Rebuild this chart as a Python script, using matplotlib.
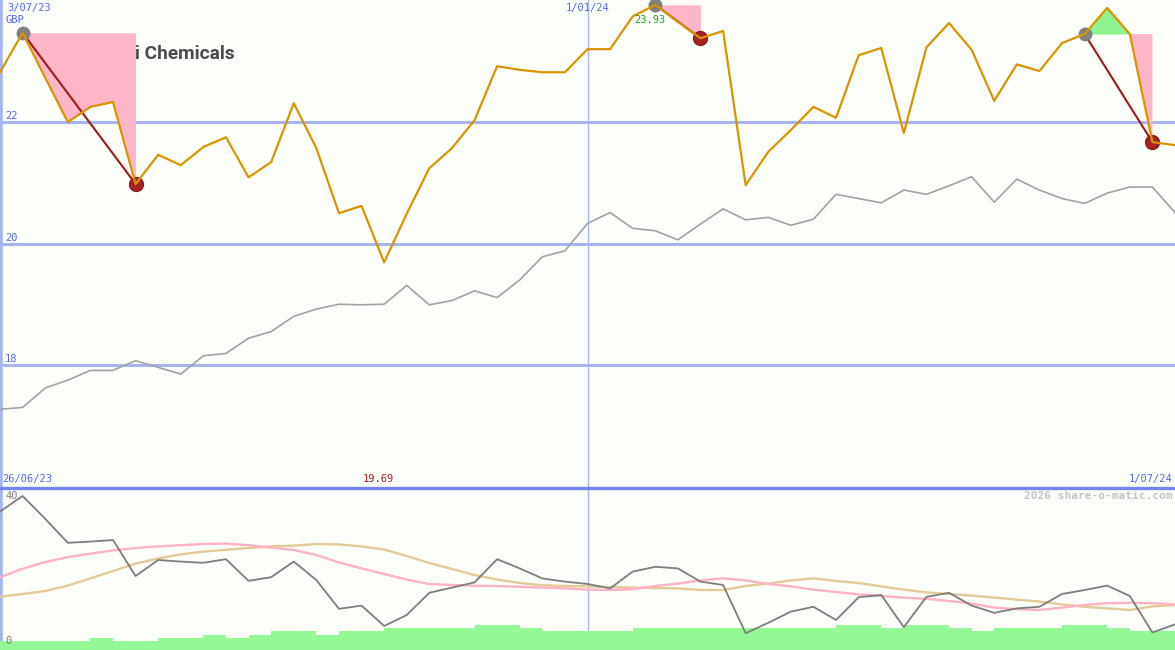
import matplotlib
matplotlib.use('Agg')
import matplotlib.pyplot as plt
from matplotlib.lines import Line2D
import numpy as np

# ---------------- data ----------------
price = [22.82, 23.47, 22.73, 22.00, 22.25, 22.33, 20.98, 21.46, 21.29, 21.59,
         21.75, 21.09, 21.34, 22.31, 21.57, 20.50, 20.62, 19.69, 20.49, 21.24,
         21.57, 22.03, 22.92, 22.86, 22.82, 22.82, 23.20, 23.20, 23.74, 23.93,
         23.65, 23.38, 23.50, 20.96, 21.51, 21.87, 22.25, 22.07, 23.10, 23.22,
         21.82, 23.23, 23.63, 23.19, 22.35, 22.95, 22.84, 23.30, 23.45, 23.88,
         23.45, 21.67, 21.62]
relative = [17.27, 17.30, 17.62, 17.75, 17.91, 17.91, 18.07, 17.96, 17.85, 18.15,
            18.19, 18.44, 18.55, 18.80, 18.92, 19.00, 18.99, 19.00, 19.31, 18.99,
            19.06, 19.22, 19.11, 19.40, 19.78, 19.88, 20.33, 20.51, 20.25, 20.21,
            20.06, 20.32, 20.57, 20.39, 20.43, 20.30, 20.40, 20.81, 20.74, 20.67,
            20.88, 20.81, 20.95, 21.10, 20.68, 21.06, 20.88, 20.74, 20.66, 20.83,
            20.93, 20.93, 20.51]
osc = [34.6, 38.5, 32.8, 26.8, 27.1, 27.5, 18.5, 22.5, 22.1, 21.8,
       22.7, 17.3, 18.2, 22.1, 17.5, 10.3, 11.1, 6.0, 8.75, 14.3,
       15.6, 16.9, 22.7, 20.4, 17.9, 17.1, 16.5, 15.4, 19.6, 20.8,
       20.4, 17.1, 16.25, 4.2, 6.8, 9.6, 10.8, 7.5, 13.2, 13.75,
       5.7, 13.3, 14.3, 11.1, 9.3, 10.4, 10.8, 14.0, 15.0, 16.1,
       13.5, 4.4, 6.4]
osc_ma_fast = [18.2, 20.3, 22.0, 23.2, 24.1, 24.9, 25.5, 25.9, 26.2, 26.5,
               26.6, 26.2, 25.6, 25.0, 23.75, 21.9, 20.4, 19.0, 17.6, 16.5,
               16.25, 16.05, 16.0, 15.8, 15.6, 15.4, 15.1, 15.0, 15.2, 16.0,
               16.6, 17.4, 17.9, 17.4, 16.5, 15.9, 15.1, 14.5, 13.9, 13.5,
               13.1, 12.8, 12.25, 11.6, 10.6, 10.2, 10.0, 10.6, 11.25, 11.7,
               11.8, 11.7, 11.4]
osc_ma_slow = [13.3, 14.0, 14.75, 16.1, 17.9, 19.75, 21.6, 22.9, 23.9, 24.6,
               25.05, 25.5, 25.9, 26.1, 26.5, 26.4, 25.9, 25.1, 23.5, 21.75,
               20.25, 18.75, 17.6, 16.75, 16.2, 16.0, 15.9, 15.75, 15.6, 15.5,
               15.4, 15.0, 15.0, 16.0, 16.6, 17.4, 17.9, 17.25, 16.75, 15.9,
               15.1, 14.4, 14.0, 13.6, 13.1, 12.6, 12.1, 11.4, 10.8, 10.4,
               10.0, 10.9, 11.25]
volume = [2.25, 2.25, 2.25, 2.25, 2.9, 2.25, 2.25, 2.9, 2.9, 3.75,
          2.9, 3.75, 4.75, 4.75, 3.75, 4.75, 4.75, 5.5, 5.5, 5.5,
          5.5, 6.25, 6.25, 5.5, 4.75, 4.75, 4.75, 4.75, 5.5, 5.5,
          5.5, 5.5, 5.5, 5.5, 5.5, 5.5, 5.5, 6.25, 6.25, 5.5,
          6.25, 6.25, 5.5, 4.75, 5.5, 5.5, 5.5, 6.25, 6.25, 5.5,
          4.75, 4.75, 4.75]
price_grid = [18, 20, 22]
drop_start = [1, 29, 48]
drop_end = [6, 31, 51]
year_mark = 26
start_label, year_label, end_label = "26/06/23", "1/01/24", "1/07/24"
top_label = "3/07/23"
title = "Mitsui Chemicals"

# ---------------- styles ----------------
W, H = 1175, 650
BG = '#FCFEFA'
GRID = '#A6B4F2'
BLUE_TXT = '#5566EE'
ORANGE = '#D99400'
MONO = 'DejaVu Sans Mono'

fig = plt.figure(figsize=(W / 100, H / 100), dpi=100)
fig.patch.set_facecolor(BG)

def fx(x):
    return x / W

def fy(y):
    return 1 - y / H

main = fig.add_axes([0, fy(487), 1, 487 / H])
sub = fig.add_axes([0, 0, 1, 162 / H])
for ax in (main, sub):
    ax.set_axis_off()
    ax.set_xlim(0, len(price) - 1)

x = np.arange(len(price))
p = np.array(price)

main.set_ylim(15.99, 24.01)
sub.set_ylim(0, 40.5)

# grid
for g in price_grid:
    main.axhline(g, color=GRID, lw=2.2, zorder=1)
main.axvline(year_mark, color=GRID, lw=1.0, zorder=1)
sub.axvline(year_mark, color=GRID, lw=1.0, zorder=1)
main.axvline(0, color=GRID, lw=4, zorder=1)
sub.axvline(0, color=GRID, lw=4, zorder=1)
fig.add_artist(Line2D([0, 1], [fy(487.5), fy(487.5)], transform=fig.transFigure,
                      color='#7383F0', lw=2.4))

# title (partly covered by first drawdown fill)
main.text(fx(235), fy(59), title, ha='right', va='baseline', fontsize=13.8,
          family=['Liberation Sans Narrow', 'Roboto'], color='#4C4C50',
          fontweight='bold', transform=fig.transFigure, zorder=1.5)

# relative line
main.plot(x, relative, color='#A3A3A3', lw=1.2, zorder=3)

# drawdown highlights
for s, e in zip(drop_start, drop_end):
    xs = x[s:e + 1]
    ys = p[s:e + 1]
    base = p[s]
    main.fill_between(xs, ys, base, where=ys <= base, interpolate=True,
                      color='#FFB6C9', lw=0, zorder=2)
    main.fill_between(xs, ys, base, where=ys >= base, interpolate=True,
                      color='#90F48E', lw=0, zorder=2)
    main.plot([x[s], x[e]], [p[s], p[e]], color='#A01818', lw=1.5, zorder=4)
    main.plot(x[s], p[s], 'o', ms=9, color='#808080', zorder=5)
    main.plot(x[e], p[e], 'o', ms=10, color='#A52222', mec='#8E1A1A', zorder=5)

# price line
main.plot(x, p, color=ORANGE, lw=1.6, zorder=6)

# labels main
imax = int(np.argmax(p))
imin = int(np.argmin(p))
main.annotate(f"{p[imax]:.2f}", (x[imax], p[imax]), xytext=(-5, -15),
              textcoords='offset pixels', ha='center', va='center',
              fontsize=7.5, family=MONO, color='#2E9A2E', zorder=7)
main.annotate(f"{p[imin]:.2f}", (x[imin], 15.99), xytext=(-6, 8),
              textcoords='offset pixels', ha='center', va='center',
              fontsize=7.5, family=MONO, color='#A82020', zorder=7)
for g in price_grid:
    main.annotate(str(g), (0, g), xytext=(5, 6), textcoords='offset pixels',
                  ha='left', va='center', fontsize=7.5, family=MONO,
                  color=BLUE_TXT)

fig.text(fx(7), fy(8), top_label, ha='left', va='center', fontsize=7.5,
         family=MONO, color=BLUE_TXT)
fig.text(fx(5), fy(20), "GBP", ha='left', va='center', fontsize=7.5,
         family=MONO, color=BLUE_TXT)
main.annotate(year_label, (year_mark, 24.01), xytext=(0, -8),
              textcoords='offset pixels', ha='center', va='center',
              fontsize=7.5, family=MONO, color=BLUE_TXT)
fig.text(fx(2), fy(479), start_label, ha='left', va='center', fontsize=7.5,
         family=MONO, color=BLUE_TXT)
fig.text(fx(1172), fy(479), end_label, ha='right', va='center', fontsize=7.5,
         family=MONO, color=BLUE_TXT)

# ---------------- lower panel ----------------
sub.fill_between(x, volume, 0, step='post', color='#94F894', lw=0, zorder=1)
sub.plot(x, osc_ma_slow, color='#E4CA98', lw=1.7, zorder=2)
sub.plot(x, osc_ma_fast, color='#FFB2C6', lw=1.7, zorder=2)
sub.plot(x, osc, color='#7E7E7E', lw=1.3, zorder=3)

fig.text(fx(5), fy(496), "40", ha='left', va='center', fontsize=7.5,
         family=MONO, color='#808080')
fig.text(fx(5), fy(641), "0", ha='left', va='center', fontsize=7.5,
         family=MONO, color='#808080')
fig.text(fx(1172), fy(496), "2026 share-o-matic.com", ha='right', va='center',
         fontsize=8, family=MONO, fontweight='bold', color='#C4C4C4')

fig.savefig('out.png', dpi=100, facecolor=BG)
